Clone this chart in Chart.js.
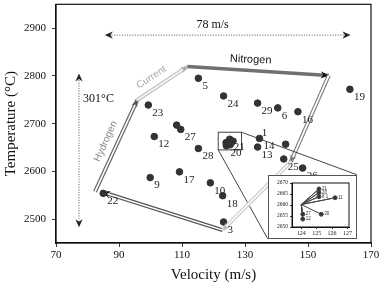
<!DOCTYPE html>
<html>
<head>
<meta charset="utf-8">
<script src="https://cdn.jsdelivr.net/npm/chart.js@4"></script>
<style>
  body { margin: 0; background: #fff; }
  #wrap { position: relative; width: 383px; height: 286px; }
  #inset { position: absolute; background: #fff; border: 1px solid #555; }
</style>
</head>
<body>
<div id="wrap">
  <canvas id="mainChart" width="383" height="286"></canvas>
  <div id="inset"><canvas id="insetChart"></canvas></div>
</div>
<script>
// main scatter: velocity (m/s) vs temperature (C), one entry per shot
const velocity = [115.2, 123.2, 134.0, 140.4, 146.8, 163.3, 99.3, 108.3, 109.6, 101.2, 115.2, 99.9, 109.2,
  119.0, 122.9, 123.2, 85.0, 134.6, 134.0, 142.9, 142.3, 148.3,
  124.0, 125.15, 125.15, 125.15, 126.2, 124.1, 124.1, 125.3];
const temperature = [2795, 2758, 2743, 2733, 2725, 2772, 2739, 2697, 2688, 2673, 2648, 2587, 2599,
  2576, 2549, 2494, 2554, 2669, 2651, 2657, 2626, 2607,
  2660.2, 2667.3, 2665.6, 2663.8, 2663.3, 2655.8, 2653.6, 2655.8];
const pointIds = ['5', '24', '29', '6', '16', '19', '23', '', '27', '12', '28', '9', '17',
  '10', '18', '3', '22', '14', '13', '', '25', '26',
  '', '21', '', '', '', '20', '', ''];

const xTicks = [70, 90, 110, 130, 150, 170];
const yTicks = [2500, 2600, 2700, 2800, 2900];

// zoomed cluster (inset): rays from the starting condition
const insetOrigin = [124.0, 2660.2];
const insetX = [125.15, 125.15, 125.15, 126.2, 124.1, 124.1, 125.3];
const insetY = [2667.3, 2665.6, 2663.8, 2663.3, 2655.8, 2653.6, 2655.8];
const insetIds = ['21', '20', '8 1', '11', '27', '12', '30'];
const insetXTicks = [124, 125, 126, 127];
const insetYTicks = [2650, 2655, 2660, 2665, 2670];

// process path drawn around the cloud (velocity, temperature)
const pathV = [82.4, 95.8, 111.7, 156.6, 144.5, 122.9, 84.6];
const pathT = [2557.7, 2749.5, 2819.6, 2801, 2619.6, 2477, 2557];

const SERIF = '"Liberation Serif", "Times New Roman", serif';
const SANS = '"Liberation Sans", Arial, sans-serif';

function head(ctx, x1, y1, x2, y2, size, color) {
  const a = Math.atan2(y2 - y1, x2 - x1);
  ctx.save();
  ctx.translate(x2, y2);
  ctx.rotate(a);
  ctx.fillStyle = color;
  ctx.beginPath();
  ctx.moveTo(0, 0);
  ctx.lineTo(-size, -size * 0.45);
  ctx.lineTo(-size * 0.7, 0);
  ctx.lineTo(-size, size * 0.45);
  ctx.closePath();
  ctx.fill();
  ctx.restore();
}

function band(ctx, p, q, outer, w, inner) {
  ctx.save();
  ctx.lineCap = 'butt';
  ctx.strokeStyle = outer;
  ctx.lineWidth = w;
  ctx.beginPath(); ctx.moveTo(p[0], p[1]); ctx.lineTo(q[0], q[1]); ctx.stroke();
  if (inner) {
    ctx.strokeStyle = '#fff';
    ctx.lineWidth = inner;
    ctx.beginPath(); ctx.moveTo(p[0], p[1]); ctx.lineTo(q[0], q[1]); ctx.stroke();
  }
  ctx.restore();
}

function text(ctx, str, x, y, font, color, rot, align) {
  ctx.save();
  ctx.translate(x, y);
  ctx.rotate((rot || 0) * Math.PI / 180);
  ctx.font = font;
  ctx.fillStyle = color;
  ctx.textAlign = align || 'center';
  ctx.textBaseline = 'middle';
  ctx.fillText(str, 0, 0);
  ctx.restore();
}

const annotations = {
  id: 'annotations',
  beforeDatasetsDraw(chart) {
    const { ctx, scales: { x, y } } = chart;
    const P = (v, t) => [x.getPixelForValue(v), y.getPixelForValue(t)];
    const pts = pathV.map((v, i) => P(v, pathT[i]));

    // dotted span arrows
    ctx.save();
    ctx.strokeStyle = '#888';
    ctx.lineWidth = 1.2;
    ctx.setLineDash([1.2, 1.4]);
    const h1 = P(85.5, 2885.6), h2 = P(163.5, 2885.6);
    const v1 = P(77.3, 2805), v2 = P(77.3, 2483);
    ctx.beginPath(); ctx.moveTo(h1[0] + 4, h1[1]); ctx.lineTo(h2[0] - 4, h2[1]); ctx.stroke();
    ctx.beginPath(); ctx.moveTo(v1[0], v1[1] + 4); ctx.lineTo(v2[0], v2[1] - 4); ctx.stroke();
    ctx.restore();
    head(ctx, h2[0], h2[1], h1[0], h1[1], 8, '#222');
    head(ctx, h1[0], h1[1], h2[0], h2[1], 8, '#222');
    head(ctx, v2[0], v2[1], v1[0], v1[1], 8, '#222');
    head(ctx, v1[0], v1[1], v2[0], v2[1], 8, '#222');
    const l1 = P(119.7, 2906), l2 = P(78.6, 2751);
    text(ctx, '78 m/s', l1[0], l1[1], '12px ' + SERIF, '#111');
    text(ctx, '301\u00b0C', l2[0], l2[1], '12px ' + SERIF, '#111', 0, 'left');

    // hydrogen / current / nitrogen path
    band(ctx, pts[0], pts[1], '#666', 4, 1.6);
    head(ctx, pts[0][0], pts[0][1], pts[1][0], pts[1][1], 7, '#555');
    band(ctx, pts[1], pts[2], '#c4c4c4', 4, 1.4);
    head(ctx, pts[1][0], pts[1][1], pts[2][0], pts[2][1], 7, '#aaa');
    band(ctx, pts[2], pts[3], '#707070', 3.5, 0);
    head(ctx, pts[2][0], pts[2][1], pts[3][0], pts[3][1], 8, '#111');
    band(ctx, pts[3], pts[4], '#777', 4, 1.8);
    head(ctx, pts[3][0], pts[3][1], pts[4][0], pts[4][1], 7, '#777');
    band(ctx, pts[5], pts[6], '#555', 4, 1.5);
    head(ctx, pts[5][0], pts[5][1], pts[6][0], pts[6][1], 8, '#111');

    const tH = P(85.8, 2663), tC = P(100.3, 2797), tN = P(131.8, 2834);
    text(ctx, 'Hydrogen', tH[0], tH[1], '10px ' + SANS, '#888', -65.7);
    text(ctx, 'Current', tC[0], tC[1], '10px ' + SANS, '#aaa', -33.4);
    text(ctx, 'Nitrogen', tN[0], tN[1], '11px ' + SANS, '#111', 2.5);

    // zoom box and connectors toward the inset
    const b1 = P(121.5, 2682), b2 = P(128.9, 2645);
    const i1 = P(137.2, 2593), i2 = P(165.5, 2459);
    ctx.save();
    ctx.strokeStyle = '#444';
    ctx.lineWidth = 1;
    ctx.strokeRect(b1[0], b1[1], b2[0] - b1[0], b2[1] - b1[1]);
    ctx.beginPath();
    ctx.moveTo(b2[0], b1[1]); ctx.lineTo(i2[0], i1[1]);
    ctx.moveTo(b1[0], b2[1]); ctx.lineTo(i1[0], i2[1]);
    ctx.stroke();
    ctx.restore();
  },
  afterDatasetsDraw(chart) {
    const { ctx, scales: { x, y } } = chart;
    const P = (v, t) => [x.getPixelForValue(v), y.getPixelForValue(t)];
    const pts = pathV.map((v, i) => P(v, pathT[i]));
    // light return leg sits over the points
    band(ctx, pts[4], pts[5], '#cfcfcf', 4, 1.4);
    head(ctx, pts[4][0], pts[4][1], pts[5][0], pts[5][1], 7, '#bbb');

    ctx.save();
    ctx.font = '11px ' + SERIF;
    ctx.fillStyle = '#222';
    ctx.textAlign = 'left';
    ctx.textBaseline = 'middle';
    pointIds.forEach((id, i) => {
      if (!id) return;
      ctx.fillText(id, x.getPixelForValue(velocity[i]) + 4, y.getPixelForValue(temperature[i]) + 8);
    });
    const one = P(135.3, 2681);
    ctx.fillText('1', one[0], one[1]);
    ctx.restore();

    // frame (top and right sides)
    const a = chart.chartArea;
    ctx.save();
    ctx.strokeStyle = '#111';
    ctx.lineWidth = 1.2;
    ctx.strokeRect(a.left, a.top, a.right - a.left, a.bottom - a.top);
    ctx.restore();
  }
};

const plain = v => String(v);

const main = new Chart(document.getElementById('mainChart'), {
  type: 'scatter',
  data: {
    datasets: [{
      data: velocity.map((v, i) => ({ x: v, y: temperature[i] })),
      backgroundColor: '#333',
      borderColor: '#333',
      pointRadius: 3.3,
      pointHoverRadius: 3.3
    }]
  },
  options: {
    responsive: false,
    animation: false,
    devicePixelRatio: 1,
    layout: { padding: { left: 0, right: 12, top: -2, bottom: 0 } },
    plugins: { legend: { display: false }, tooltip: { enabled: false } },
    scales: {
      x: {
        type: 'linear', min: 70, max: 170,
        afterBuildTicks: s => { s.ticks = xTicks.map(v => ({ value: v })); },
        afterFit: s => { s.height = 43; s.paddingLeft = 0; s.paddingRight = 0; },
        ticks: { font: { family: SERIF, size: 11 }, color: '#111', maxRotation: 0, padding: 2, callback: plain },
        grid: { drawOnChartArea: false, tickLength: 4, color: '#333' },
        border: { color: '#111', width: 1.2 },
        title: { display: true, text: 'Velocity (m/s)', font: { family: SERIF, size: 15 }, color: '#111', padding: { top: 0, bottom: 2 } }
      },
      y: {
        type: 'linear', min: 2450, max: 2950,
        afterBuildTicks: s => { s.ticks = yTicks.map(v => ({ value: v })); },
        afterFit: s => { s.width = 56; s.paddingTop = 0; s.paddingBottom = 0; },
        ticks: { font: { family: SERIF, size: 11 }, color: '#111', padding: 6, callback: plain },
        grid: { drawOnChartArea: false, tickLength: 4, color: '#333' },
        border: { color: '#111', width: 1.2 },
        title: { display: true, text: 'Temperature (\u00b0C)', font: { family: SERIF, size: 15 }, color: '#111', padding: { top: 2, bottom: 0 } }
      }
    }
  },
  plugins: [annotations]
});

// place the inset box from the main chart's scales
const sx = main.scales.x, sy = main.scales.y;
const boxLeft = Math.round(sx.getPixelForValue(137.2)), boxRight = Math.round(sx.getPixelForValue(165.5));
const boxTop = Math.round(sy.getPixelForValue(2593)), boxBottom = Math.round(sy.getPixelForValue(2459));
const box = document.getElementById('inset');
box.style.left = boxLeft + 'px';
box.style.top = boxTop + 'px';
const ic = document.getElementById('insetChart');
ic.width = boxRight - boxLeft - 2;
ic.height = boxBottom - boxTop - 2;

const rays = [];
insetX.forEach((v, i) => {
  rays.push({ x: insetOrigin[0], y: insetOrigin[1] });
  rays.push({ x: v, y: insetY[i] });
});

const insetDecor = {
  id: 'insetDecor',
  afterDatasetsDraw(chart) {
    const { ctx, scales: { x, y } } = chart;
    const a = chart.chartArea;
    ctx.save();
    ctx.strokeStyle = '#111';
    ctx.lineWidth = 1;
    ctx.strokeRect(a.left, a.top, a.right - a.left, a.bottom - a.top);
    ctx.font = '4.5px ' + SANS;
    ctx.fillStyle = '#333';
    ctx.textBaseline = 'middle';
    insetIds.forEach((id, i) => {
      ctx.fillText(id, x.getPixelForValue(insetX[i]) + 3, y.getPixelForValue(insetY[i]));
    });
    ctx.restore();
  }
};

new Chart(ic, {
  type: 'scatter',
  data: {
    datasets: [{
      data: rays,
      showLine: true,
      borderColor: '#444',
      borderWidth: 1,
      backgroundColor: '#333',
      pointRadius: c => (c.dataIndex % 2 ? 2 : 0)
    }]
  },
  options: {
    responsive: false,
    animation: false,
    devicePixelRatio: 1,
    layout: { padding: { left: 0, right: 7, top: 7, bottom: 0 } },
    plugins: { legend: { display: false }, tooltip: { enabled: false } },
    scales: {
      x: {
        type: 'linear', min: 123.4, max: 127.1,
        afterBuildTicks: s => { s.ticks = insetXTicks.map(v => ({ value: v })); },
        afterFit: s => { s.height = 11; s.paddingLeft = 0; s.paddingRight = 0; },
        ticks: { font: { family: SERIF, size: 6 }, color: '#222', autoSkip: false, maxRotation: 0, padding: 1, callback: plain },
        grid: { drawOnChartArea: false, tickLength: 2, color: '#333' },
        border: { color: '#111' }
      },
      y: {
        type: 'linear', min: 2650, max: 2670,
        afterBuildTicks: s => { s.ticks = insetYTicks.map(v => ({ value: v })); },
        afterFit: s => { s.width = 23; s.paddingTop = 0; s.paddingBottom = 0; },
        ticks: { font: { family: SERIF, size: 5.5 }, color: '#222', autoSkip: false, padding: 2, callback: plain },
        grid: { drawOnChartArea: false, tickLength: 2, color: '#333' },
        border: { color: '#111' }
      }
    }
  },
  plugins: [insetDecor]
});
</script>
</body>
</html>
